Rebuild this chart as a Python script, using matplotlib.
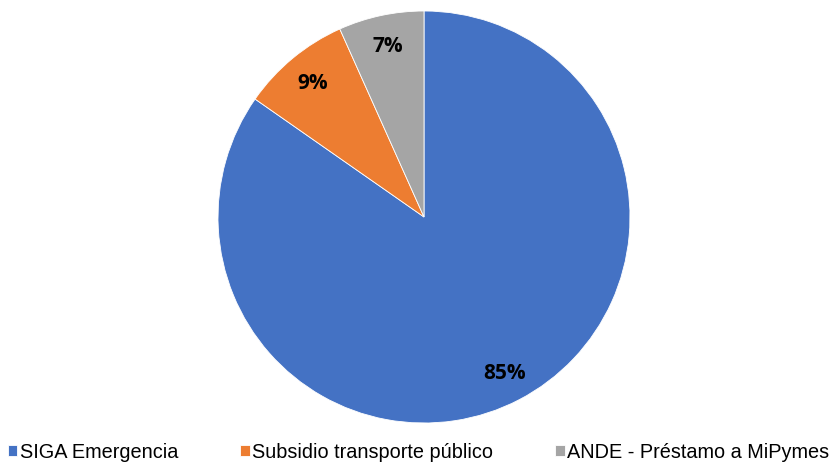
import matplotlib.pyplot as plt

labels = ['SIGA Emergencia', 'Subsidio transporte público', 'ANDE - Préstamo a MiPymes']
values = [84.7, 8.6, 6.7]
colors = ['#4472C4', '#ED7D31', '#A5A5A5']

fig = plt.figure(figsize=(8.37, 4.64), dpi=100)
ax = fig.add_axes([(424 - 206) / 837, (464 - 424) / 464, 412 / 837, 412 / 464])

wedges, texts, autotexts = ax.pie(
    values, colors=colors, startangle=90, counterclock=False,
    autopct='%1.0f%%', pctdistance=0.85,
    wedgeprops=dict(linewidth=0.6, edgecolor='white'),
    textprops=dict(fontsize=15, fontweight='bold', family='Open Sans', color='black'),
)
ax.set_xlim(-1, 1)
ax.set_ylim(-1, 1)
ax.set_aspect('equal')

fig.legend(wedges, labels, loc='center left', bbox_to_anchor=(0.009, 1 - 453 / 464), ncol=3,
           frameon=False, prop=dict(family='Liberation Sans', size=14.3),
           handlelength=0.5, handleheight=0.5, handletextpad=0.12,
           columnspacing=3.1, borderaxespad=0.0, borderpad=0.0)

fig.savefig('out.png', dpi=100)
